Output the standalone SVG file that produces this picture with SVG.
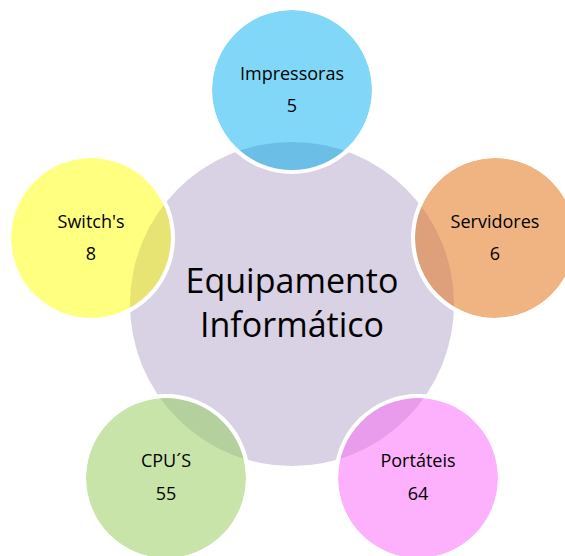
<svg xmlns="http://www.w3.org/2000/svg" width="565" height="556" viewBox="0 0 565 556">
<style>
.lbl{font-family:"Open Sans","Noto Sans",sans-serif;font-size:18px;fill:#000;text-anchor:middle}
.big{font-family:"Open Sans","Noto Sans",sans-serif;font-size:34px;fill:#000;text-anchor:middle}
.ring{fill:none;stroke:#fff;stroke-width:4}
</style>
<defs>
<clipPath id="cBlue"><circle cx="292" cy="90" r="80"/></clipPath>
<clipPath id="cYellow"><circle cx="91" cy="238" r="80"/></clipPath>
<clipPath id="cOrange"><circle cx="495" cy="238" r="80"/></clipPath>
<clipPath id="cGreen"><circle cx="166" cy="478" r="80"/></clipPath>
<clipPath id="cPink"><circle cx="418" cy="478" r="80"/></clipPath>
</defs>
<rect width="565" height="556" fill="#fff"/>
<g id="center">
<circle cx="292" cy="304" r="162" fill="#D9D1E4"/>
<text class="big" x="292" y="293">Equipamento</text>
<text class="big" x="292" y="337">Informático</text>
</g>
<g id="connectors"/>
<g id="impressoras">
<circle cx="292" cy="90" r="80" fill="#80D7F7"/>
<circle cx="292" cy="304" r="162" fill="#6BBEE6" clip-path="url(#cBlue)"/>
<circle class="ring" cx="292" cy="90" r="82"/>
<text class="lbl" x="292" y="80">Impressoras</text>
<text class="lbl" x="292" y="112">5</text>
</g>
<g id="switchs">
<circle cx="91" cy="238" r="80" fill="#FFFF80"/>
<circle cx="292" cy="304" r="162" fill="#E8E474" clip-path="url(#cYellow)"/>
<circle class="ring" cx="91" cy="238" r="82"/>
<text class="lbl" x="91" y="228">Switch's</text>
<text class="lbl" x="91" y="260">8</text>
</g>
<g id="servidores">
<circle cx="495" cy="238" r="80" fill="#F0B483"/>
<circle cx="292" cy="304" r="162" fill="#DE9F7B" clip-path="url(#cOrange)"/>
<circle class="ring" cx="495" cy="238" r="82"/>
<text class="lbl" x="495" y="228">Servidores</text>
<text class="lbl" x="495" y="260">6</text>
</g>
<g id="cpus">
<circle cx="166" cy="478" r="80" fill="#C8E4A8"/>
<circle cx="292" cy="304" r="162" fill="#B4D09C" clip-path="url(#cGreen)"/>
<circle class="ring" cx="166" cy="478" r="82"/>
<text class="lbl" x="166" y="467">CPU´S</text>
<text class="lbl" x="166" y="500">55</text>
</g>
<g id="portateis">
<circle cx="418" cy="478" r="80" fill="#FDB1FD"/>
<circle cx="292" cy="304" r="162" fill="#E89CEB" clip-path="url(#cPink)"/>
<circle class="ring" cx="418" cy="478" r="82"/>
<text class="lbl" x="418" y="467">Portáteis</text>
<text class="lbl" x="418" y="500">64</text>
</g>
</svg>
